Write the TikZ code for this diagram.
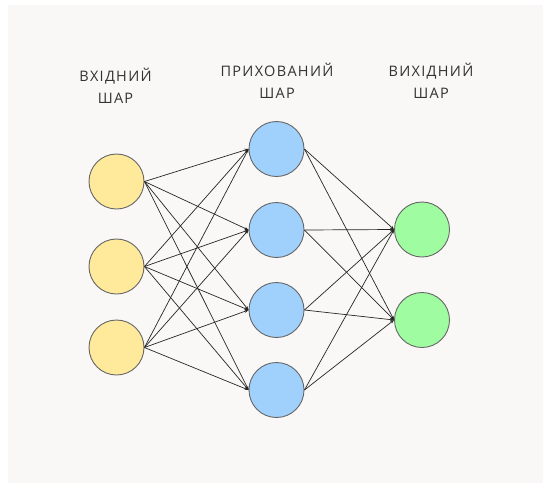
\documentclass[tikz,border=0pt]{standalone}
\usepackage{fontspec}
\setmainfont{Open Sans}
\newfontfamily\labelfont[LetterSpace=9]{Open Sans}
\usetikzlibrary{arrows.meta}
\definecolor{bgcol}{HTML}{F9F8F6}
\definecolor{incol}{HTML}{FFE99A}
\definecolor{hidcol}{HTML}{A0D0FC}
\definecolor{outcol}{HTML}{A0FCA0}
\definecolor{txtcol}{HTML}{333333}
\definecolor{rimcol}{HTML}{666666}
\tikzset{
  neuron/.style={circle, minimum size=55pt, inner sep=0pt, draw=rimcol, line width=0.9pt},
  innode/.style={neuron, fill=incol},
  hidnode/.style={neuron, fill=hidcol},
  outnode/.style={neuron, fill=outcol},
  layerlabel/.style={text=txtcol, font=\labelfont\fontsize{14.5}{21.5}\selectfont, align=center},
  link/.style={draw=black!85, line width=0.7pt, -{Stealth[length=4pt,width=3pt]}}
}
\begin{document}
\begin{tikzpicture}[x=1pt,y=-1pt]
\useasboundingbox (0,0) rectangle (543,483);
\fill[white] (0,0) rectangle (543,483);
\fill[bgcol] (8,5) rectangle (543,483);
\node[layerlabel] (lin) at (115.5,86) {ВХІДНИЙ\\ШАР};
\node[layerlabel] (lhid) at (277,81) {ПРИХОВАНИЙ\\ШАР};
\node[layerlabel] (lout) at (431,81) {ВИХІДНИЙ\\ШАР};
\node[innode] (i1) at (116.5,181.5) {};
\node[innode] (i2) at (116.5,266.5) {};
\node[innode] (i3) at (116.5,347.5) {};
\node[hidnode] (h1) at (276.5,149) {};
\node[hidnode] (h2) at (276.5,230) {};
\node[hidnode] (h3) at (276.5,310) {};
\node[hidnode] (h4) at (276.5,390) {};
\node[outnode] (o1) at (422,229.5) {};
\node[outnode] (o2) at (422,320) {};
\foreach \i in {1,2,3}{
  \foreach \h in {1,2,3,4}{
    \draw[link] (i\i.east) -- (h\h.west);
  }
}
\foreach \h in {1,2,3,4}{
  \foreach \o in {1,2}{
    \draw[link] (h\h.east) -- (o\o.west);
  }
}
\end{tikzpicture}
\end{document}
